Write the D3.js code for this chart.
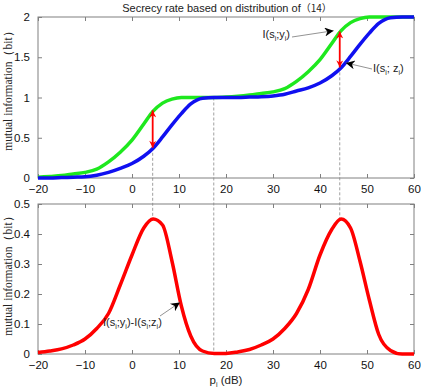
<!DOCTYPE html>
<html><head><meta charset="utf-8">
<script src="https://cdn.jsdelivr.net/npm/d3@7"></script>
<style>
body{margin:0;background:#fff;}
svg{display:block;font-family:"Liberation Sans",Arial,sans-serif;}
</style></head>
<body><svg id="c" width="421" height="390"></svg>
<script>
const pValues = [-20,-17.5,-15,-12.5,-10,-7.5,-5,-2.5,0,2.5,4.5,6.5,8.5,10.5,12.5,15,17.5,20,22.5,25,27.5,30,32.5,35,37.5,40,42.5,44.5,46.5,48.5,50.5,52.5,55,57.5,60];
const mutualY = [0.01,0.02,0.03,0.05,0.07,0.11,0.20,0.32,0.47,0.67,0.83,0.93,0.98,1.0,1.0,1.0,1.0,1.005,1.015,1.03,1.05,1.07,1.11,1.20,1.32,1.47,1.67,1.83,1.93,1.98,2.0,2.0,2.0,2.0,2.0];
const mutualZ = [0.0,0.0,0.005,0.01,0.015,0.035,0.07,0.12,0.18,0.27,0.37,0.51,0.66,0.80,0.92,0.99,1.0,1.0,1.0,1.005,1.01,1.02,1.04,1.08,1.12,1.18,1.27,1.37,1.51,1.66,1.80,1.92,1.99,2.0,2.0];
const secrecy = [0.005,0.01,0.017,0.03,0.05,0.085,0.135,0.23,0.33,0.42,0.45,0.43,0.31,0.16,0.06,0.01,0.002,0.002,0.007,0.015,0.03,0.05,0.085,0.135,0.215,0.33,0.415,0.45,0.42,0.31,0.18,0.065,0.012,0.0,0.0];
const xTicks = [-20,-10,0,10,20,30,40,50,60];
const yTicksTop = [0,0.5,1,1.5,2];
const yTicksBottom = [0,0.1,0.2,0.3,0.4,0.5];
const markerP = [4.4, 44.2];
const dashP = [4.4, 17.4, 44.2];
const dashTopVal = [0.375, 1.0, 1.375];
const dashBotVal = [0.45, 0.0, 0.45];
const arrowTopVal = [0.84, 1.82];
const arrowBotVal = [0.375, 1.375];

const svg = d3.select("#c");
const L = 38, R = 414;
const x = d3.scaleLinear().domain([-20,60]).range([L,R]);
const y1 = d3.scaleLinear().domain([0,2]).range([178,17]);
const y2 = d3.scaleLinear().domain([0,0.5]).range([354,204]);
const axisCol = "#808080";

const defs = svg.append("defs");
function mk(id,color,w,h){
  defs.append("marker").attr("id",id).attr("viewBox","0 0 10 10").attr("refX",10).attr("refY",5)
   .attr("markerWidth",w).attr("markerHeight",h).attr("orient","auto-start-reverse").attr("markerUnits","userSpaceOnUse")
   .append("path").attr("d","M0,0 L10,5 L0,10 L3,5 Z").attr("fill",color);
}
mk("ab","#000",12,9);
mk("ar","#f00",8,7);

function frame(yS, yT, fmt){
  const g = svg.append("g");
  const [b,t] = yS.range();
  g.append("rect").attr("x",L).attr("y",t).attr("width",R-L).attr("height",b-t)
   .attr("fill","none").attr("stroke",axisCol).attr("stroke-width",1);
  const gb = g.append("g").attr("transform",`translate(0,${b})`).call(d3.axisBottom(x).tickValues(xTicks).tickSizeInner(-4).tickSizeOuter(0).tickPadding(7).tickFormat(d3.format("d")));
  const gt = g.append("g").attr("transform",`translate(0,${t})`).call(d3.axisTop(x).tickValues(xTicks).tickSizeInner(-4).tickSizeOuter(0).tickFormat(""));
  const gl = g.append("g").attr("transform",`translate(${L},0)`).call(d3.axisLeft(yS).tickValues(yT).tickSizeInner(-4).tickSizeOuter(0).tickPadding(8).tickFormat(fmt));
  const gr = g.append("g").attr("transform",`translate(${R},0)`).call(d3.axisRight(yS).tickValues(yT).tickSizeInner(-4).tickSizeOuter(0).tickFormat(""));
  [gb,gt,gl,gr].forEach(a=>{a.select(".domain").remove();a.selectAll(".tick line").attr("stroke",axisCol);
    a.selectAll("text").style("font-size","11.5px").attr("fill","#111").style("font-family","Liberation Sans, Arial, sans-serif");});
}
frame(y1, yTicksTop, d=>String(d));
frame(y2, yTicksBottom, d=>String(d));

svg.append("g").selectAll("line").data(dashP).join("line")
  .attr("x1",d=>x(d)).attr("x2",d=>x(d))
  .attr("y1",(d,i)=>y1(dashTopVal[i])).attr("y2",(d,i)=>y2(dashBotVal[i]))
  .attr("stroke","#888").attr("stroke-width",0.8).attr("stroke-dasharray","3,2");

const lineTop = (vals)=>d3.line().x((d,i)=>x(pValues[i])).y(d=>y1(d)).curve(d3.curveMonotoneX)(vals);
const lineBot = d3.line().x((d,i)=>x(pValues[i])).y(d=>y2(d)).curve(d3.curveMonotoneX);

svg.append("path").attr("d",lineTop(mutualY)).attr("fill","none").attr("stroke","#1ee81e").attr("stroke-width",3.5).attr("stroke-linejoin","round");
svg.append("path").attr("d",lineTop(mutualZ)).attr("fill","none").attr("stroke","#1010f0").attr("stroke-width",3.5).attr("stroke-linejoin","round");
svg.append("path").attr("d",lineBot(secrecy)).attr("fill","none").attr("stroke","#f00").attr("stroke-width",3.5).attr("stroke-linejoin","round");

svg.append("g").selectAll("line").data(markerP).join("line")
  .attr("x1",d=>x(d)).attr("x2",d=>x(d))
  .attr("y1",(d,i)=>y1(arrowTopVal[i])).attr("y2",(d,i)=>y1(arrowBotVal[i]))
  .attr("stroke","#f00").attr("stroke-width",1.8)
  .attr("marker-start","url(#ar)").attr("marker-end","url(#ar)");

function label(g, parts, xx, yy, anchor){
  const t = g.append("text").attr("x",xx).attr("y",yy).style("font-size","11px").attr("fill","#222").attr("text-anchor",anchor||"start");
  parts.forEach(p=>{
    if (p.sub) t.append("tspan").style("font-size","7px").attr("dy",3).text(p.sub);
    else t.append("tspan").attr("dy",p.up?-3:0).text(p.t);
  });
  return t;
}
const ann = svg.append("g");
function arrow(x1,y1_,x2,y2_){
  ann.append("line").attr("x1",x1).attr("y1",y1_).attr("x2",x2).attr("y2",y2_)
    .attr("stroke","#777").attr("stroke-width",0.8).attr("marker-end","url(#ab)");
}
label(ann,[{t:"I(s"},{sub:"i"},{t:";y",up:1},{sub:"i"},{t:")",up:1}],290,38,"end");
arrow(292,37,x(42.9),y1(1.83));
label(ann,[{t:"I(s"},{sub:"i"},{t:"; z",up:1},{sub:"i"},{t:")",up:1}],373,72,"start");
arrow(372,69,x(45.5),y1(1.43));
label(ann,[{t:"I(s"},{sub:"i"},{t:";y",up:1},{sub:"i"},{t:")-I(s",up:1},{sub:"i"},{t:";z",up:1},{sub:"i"},{t:")",up:1}],103,326,"start");
arrow(160,316,x(10.2),y2(0.172));

const tt = svg.append("text").attr("x",227).attr("y",12).attr("text-anchor","middle").style("font-size","11px").attr("fill","#222");
tt.append("tspan").text("Secrecy rate based on distribution of");
tt.append("tspan").style("font-family","'Noto Sans CJK SC', serif").style("font-size","10px").text("（14）");

[[8,88],[8,273]].forEach(([cx,cy])=>{
  svg.append("text").attr("transform",`translate(${cx},${cy}) rotate(-90)`).attr("text-anchor","middle")
   .attr("dy","0.35em").attr("fill","#222")
   .style("font-size","11.5px")
   .style("font-family","'Liberation Serif', 'Times New Roman', serif")
   .text("mutual  information（bit）");
});
const xl = svg.append("text").attr("x",226).attr("y",384).attr("text-anchor","middle").style("font-size","11.5px").attr("fill","#222");
xl.append("tspan").text("p");
xl.append("tspan").style("font-size","7px").attr("dy",3).text("i");
xl.append("tspan").attr("dy",-3).text(" (dB)");
</script></body></html>
